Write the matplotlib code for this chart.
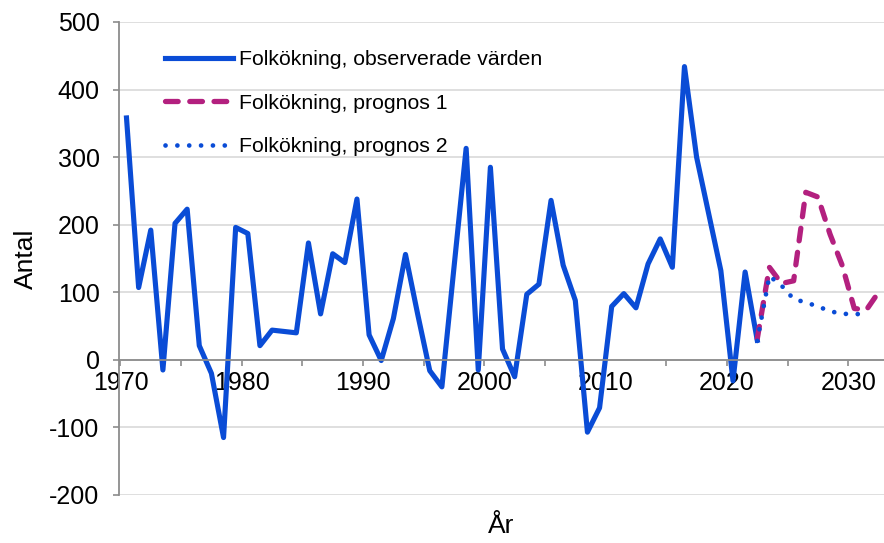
import numpy as np
import matplotlib
matplotlib.use("Agg")
import matplotlib.pyplot as plt
from matplotlib.ticker import MultipleLocator

plt.rcParams['font.family'] = ['Liberation Sans', 'DejaVu Sans']
plt.rcParams['axes.unicode_minus'] = False

# Folkökning, observerade värden
years_obs = np.arange(1970, 2023)
obs = [358, 107, 192, -15, 202, 223, 21, -20, -115, 196,
       187, 21, 44, 42, 40, 173, 68, 157, 144, 238,
       37, -1, 61, 156, 68, -16, -40, 137, 313, -15,
       285, 16, -25, 97, 112, 236, 140, 88, -107, -71,
       79, 98, 77, 142, 179, 137, 434, 300, 216, 132,
       -31, 130, 29]

# prognos 1 (startar i sista observerade året)
years_p1 = np.arange(2022, 2033)
prog1 = [31, 137, 113, 117, 248, 241, 186, 140, 76, 74, 100]

# prognos 2
years_p2 = np.arange(2022, 2032)
prog2 = [28, 124, 110, 90, 85, 79, 72, 68, 68, 67]

blue = '#0a4cd6'
magenta = '#b3207f'
axis_grey = '#8c8c8c'
mid = 0.5  # värden placeras mitt i året

fig = plt.figure(figsize=(8.84, 5.43), dpi=100)
ax = fig.add_axes([0.1346, 0.0884, 1 - 0.1346, 0.9595 - 0.0884])

ax.plot(years_obs + mid, obs, color=blue, lw=3.7,
        label='Folkökning, observerade värden')
ax.plot(years_p1 + mid, prog1, color=magenta, lw=3.8, dashes=(2.4, 2.2),
        dash_capstyle='round', label='Folkökning, prognos 1')
ax.plot(years_p2 + mid, prog2, color=blue, lw=3.4, dashes=(0.01, 2.5),
        dash_capstyle='round', label='Folkökning, prognos 2')

ax.set_ylim(-200, 500)
ax.set_xlim(1969.88, 2032.95)
ax.yaxis.set_major_locator(MultipleLocator(100))
ax.xaxis.set_major_locator(MultipleLocator(10))
ax.xaxis.set_minor_locator(MultipleLocator(5))

ax.grid(axis='y', color='#d9d9d9', lw=1.2)
ax.set_axisbelow(True)

for s in ['top', 'right']:
    ax.spines[s].set_visible(False)
ax.spines['bottom'].set_position(('data', 0))
ax.spines['bottom'].set_color(axis_grey)
ax.spines['bottom'].set_linewidth(1.3)
ax.spines['left'].set_color(axis_grey)
ax.spines['left'].set_linewidth(1.3)

ax.tick_params(axis='y', direction='out', length=4, width=1.2, color=axis_grey,
               labelsize=18, pad=10)
ax.tick_params(axis='x', which='both', direction='out', length=4, width=1.2,
               color=axis_grey, labelsize=18, pad=4)

ax.set_ylabel('Antal', fontsize=19, labelpad=8)
ax.set_xlabel('År', fontsize=19)
ax.xaxis.set_label_coords(0.5, -0.04)

ax.legend(loc='upper left', bbox_to_anchor=(0.035, 0.981), frameon=False,
          fontsize=15.3, handlelength=3.2, handletextpad=0.3, labelspacing=1.15)

fig.savefig('out.png', dpi=100)
